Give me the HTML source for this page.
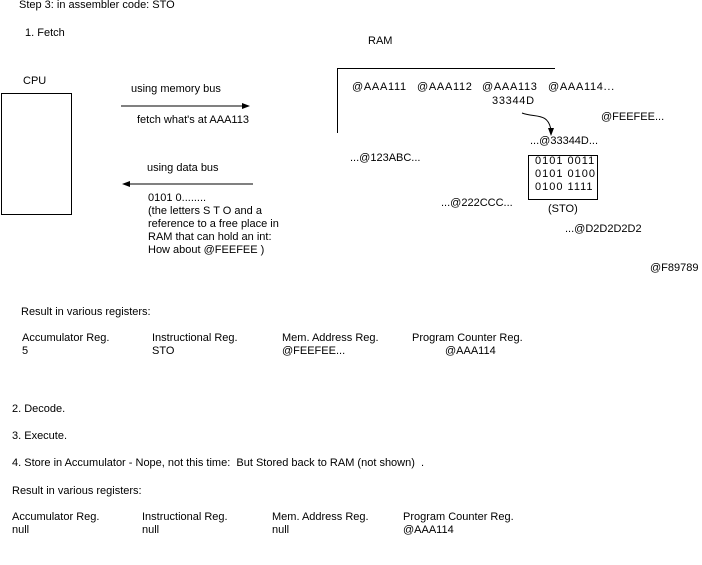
<!DOCTYPE html>
<html><head><style>
body{margin:0;width:702px;height:565px;background:#fff;position:relative;overflow:hidden;font-family:"Liberation Sans",sans-serif;font-size:11px;color:#000}
div.t{position:absolute;white-space:pre;line-height:13px}
.w{letter-spacing:0.7px}
</style></head><body>
<div class="t" style="left:19px;top:-1px">Step 3: in assembler code: STO</div>
<div class="t" style="left:25px;top:27px">1. Fetch</div>
<div class="t" style="left:368px;top:35px">RAM</div>
<div class="t" style="left:23px;top:75px">CPU</div>
<div style="position:absolute;left:1px;top:93px;width:69px;height:120px;border:1px solid #000"></div>
<div class="t" style="left:131px;top:83px">using memory bus</div>
<div class="t" style="left:137px;top:114px">fetch what's at AAA113</div>
<div class="t" style="left:147px;top:162px">using data bus</div>
<div class="t" style="left:148px;top:192px">0101 0........
(the letters S T O and a
reference to a free place in
RAM that can hold an int:
How about @FEEFEE )</div>
<svg style="position:absolute;left:0;top:0" width="702" height="565">
<line x1="121" y1="106" x2="245" y2="106" stroke="#000"/>
<polygon points="250,106 242,103 242,109" fill="#000"/>
<line x1="127" y1="184" x2="253" y2="184" stroke="#000"/>
<polygon points="122,184 130,181 130,187" fill="#000"/>
<polyline points="337.5,133 337.5,68.5 555,68.5" fill="none" stroke="#000"/>
<rect x="528.5" y="155.5" width="69" height="44" fill="none" stroke="#000"/>
<path d="M522,113 C535,118 548,112 551,130" fill="none" stroke="#000"/>
<polygon points="551,136 548,128 554,128" fill="#000"/>
</svg>
<div class="t w" style="left:352px;top:81px">@AAA111</div>
<div class="t w" style="left:417px;top:81px">@AAA112</div>
<div class="t w" style="left:482px;top:81px">@AAA113</div>
<div class="t w" style="left:548px;top:81px">@AAA114...</div>
<div class="t w" style="left:492px;top:95px">33344D</div>
<div class="t" style="left:601px;top:111px">@FEEFEE...</div>
<div class="t" style="left:530px;top:135px">...@33344D...</div>
<div class="t" style="left:350px;top:152px">...@123ABC...</div>
<div class="t" style="left:535px;top:155px;letter-spacing:1px">0101 0011
0101 0100
0100 1111</div>
<div class="t" style="left:441px;top:197px">...@222CCC...</div>
<div class="t" style="left:548px;top:203px">(STO)</div>
<div class="t" style="left:565px;top:223px">...@D2D2D2D2</div>
<div class="t" style="left:650px;top:262px">@F89789</div>
<div class="t" style="left:21px;top:306px">Result in various registers:</div>
<div class="t" style="left:22px;top:332px">Accumulator Reg.
5</div>
<div class="t" style="left:152px;top:332px">Instructional Reg.
STO</div>
<div class="t" style="left:282px;top:332px">Mem. Address Reg.
@FEEFEE...</div>
<div class="t" style="left:412px;top:332px">Program Counter Reg.</div>
<div class="t" style="left:445px;top:345px">@AAA114</div>
<div class="t" style="left:12px;top:403px">2. Decode.</div>
<div class="t" style="left:12px;top:430px">3. Execute.</div>
<div class="t" style="left:12px;top:457px">4. Store in Accumulator - Nope, not this time:  But Stored back to RAM (not shown)  .</div>
<div class="t" style="left:12px;top:485px">Result in various registers:</div>
<div class="t" style="left:12px;top:511px">Accumulator Reg.
null</div>
<div class="t" style="left:142px;top:511px">Instructional Reg.
null</div>
<div class="t" style="left:272px;top:511px">Mem. Address Reg.
null</div>
<div class="t" style="left:403px;top:511px">Program Counter Reg.
@AAA114</div>
</body></html>
